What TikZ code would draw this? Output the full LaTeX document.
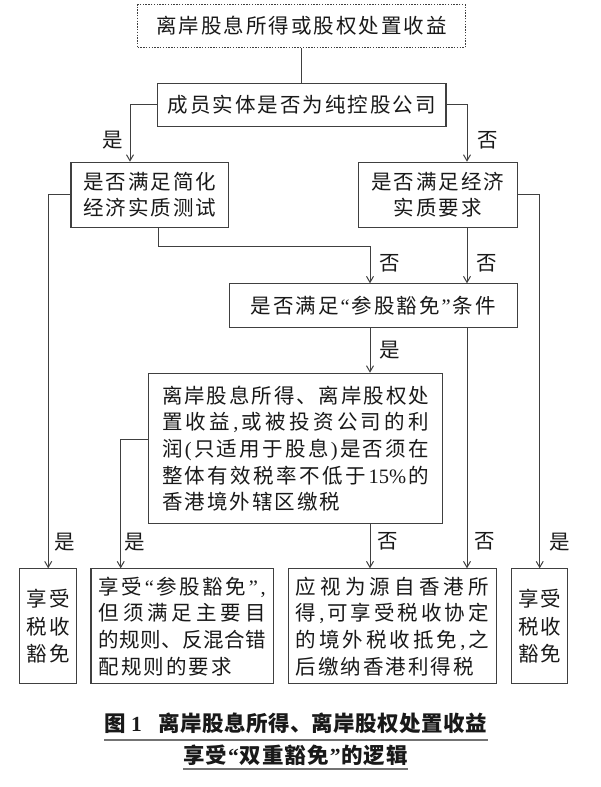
\documentclass[tikz,border=0pt]{standalone}
\usepackage{fontspec}
\setmainfont{Liberation Serif}
\newfontfamily\cjk{Noto Sans CJK SC}
\usetikzlibrary{arrows.meta}
\makeatletter
\newcommand\trk[2]{\begingroup\def\trk@first{1}%
  \@tfor\trk@c:=#2\do{\ifnum\trk@first=1 \def\trk@first{0}\else\hskip#1\relax\fi\trk@c}\endgroup}
\makeatother
\newcommand\zoq{{\rmfamily “}}
\newcommand\zcq{{\rmfamily ”}}
\newcommand\zcm{{\rmfamily ,}}
\newcommand\zlp{{\rmfamily (}}
\newcommand\zrp{{\rmfamily )}}
\newcommand\jl[2]{\hbox to #1{\trk{0pt plus 1fill}{#2}}}
\newcommand\tline[1]{\hbox{\trk{2pt}{#1}}}
\newcommand\lline[2]{\hbox to #1{\trk{2pt}{#2}\hfil}}
\tikzset{
  bx/.style={draw=black!75, line width=1.1pt, rectangle, inner sep=0pt, anchor=north west,
    align=center, font=\cjk\fontsize{20.5}{26.7}\selectfont, text=black!90},
  dbx/.style={bx, dash pattern=on 1.4pt off 1.4pt},
  lab/.style={font=\cjk\fontsize{20.5}{23}\selectfont, text=black!90, inner sep=0pt},
  captxt/.style={font=\cjk\bfseries\fontsize{21.5}{25}\selectfont, text=black!90, inner sep=0pt},
  ln/.style={draw=black!75, line width=1pt},
  arr/.style={ln, -{Straight Barb[length=6pt,width=7pt]}},
  uline/.style={draw=black!55, line width=2.2pt},
}
\begin{document}
\begin{tikzpicture}[x=1pt,y=-1pt]
\fill[white] (0,0) rectangle (600,787);
\useasboundingbox (0,0) rectangle (600,787);

\node[dbx, minimum width=327.5pt, minimum height=43pt] (top) at (137,4) {\tline{离岸股息所得或股权处置收益}};
\node[bx, minimum width=288.7pt, minimum height=43.3pt] (m) at (156.7,82.7) {\tline{成员实体是否为纯控股公司}};
\node[bx, minimum width=157.9pt, minimum height=65pt] (l2) at (70.4,161.7) {\tline{是否满足简化}\\\tline{经济实质测试}};
\node[bx, minimum width=158.8pt, minimum height=65pt] (r2) at (357.7,161.7) {\tline{是否满足经济}\\\tline{实质要求}};
\node[bx, minimum width=287.7pt, minimum height=43.4pt] (p3) at (228.8,283.3) {\tline{是否满足\zoq 参股豁免\zcq 条件}};
\node[bx, minimum width=293.4pt, minimum height=150.6pt] (q4) at (148.3,372.7)
  {\jl{267pt}{离岸股息所得、离岸股权处}\\\jl{267pt}{置收益\zcm 或被投资公司的利}\\\jl{267pt}{润\zlp 只适用于股息\zrp 是否须在}\\\jl{267pt}{整体有效税率不低于{{\rmfamily 15\%}}的}\\\lline{267pt}{香港境外辖区缴税}};
\node[bx, minimum width=56.7pt, minimum height=115pt, font=\cjk\fontsize{20.5}{27.5}\selectfont] (b1) at (19.3,568.3) {\tline{享受}\\\tline{税收}\\\tline{豁免}};
\node[bx, minimum width=182.6pt, minimum height=115pt] (b2) at (90.4,568.3)
  {\jl{167pt}{享受\zoq 参股豁免\zcq \zcm}\\\jl{167pt}{但须满足主要目}\\\jl{167pt}{的规则、反混合错}\\\lline{167pt}{配规则的要求}};
\node[bx, minimum width=208.3pt, minimum height=115pt] (b3) at (287.7,568.3)
  {\jl{193pt}{应视为源自香港所}\\\jl{193pt}{得\zcm 可享受税收协定}\\\jl{193pt}{的境外税收抵免\zcm 之}\\\lline{193pt}{后缴纳香港利得税}};
\node[bx, minimum width=56.3pt, minimum height=115pt, font=\cjk\fontsize{20.5}{27.5}\selectfont] (b4) at (511,568.3) {\tline{享受}\\\tline{税收}\\\tline{豁免}};

\coordinate (xL) at (130,0);
\coordinate (xR) at (467,0);
\coordinate (xM) at (370,0);
\coordinate (xK) at (158.3,0);
\coordinate (yK) at (0,246.7);
\coordinate (xQ) at (120.7,0);
\coordinate (yQ) at (0,439.3);

\draw[ln] (top.south) -- (top.south |- m.north);
\draw[arr] (m.west) -| (l2.north -| xL);
\draw[arr] (m.east) -| (r2.north -| xR);
\draw[arr] (l2.west) -| (b1.north);
\draw[arr] (r2.east) -| (b4.north);
\draw[arr] (l2.south -| xK) |- (yK -| xM) -- (p3.north -| xM);
\draw[arr] (r2.south -| xR) -- (p3.north -| xR);
\draw[arr] (p3.south -| xM) -- (q4.north -| xM);
\draw[arr] (p3.south -| xR) -- (b3.north -| xR);
\draw[arr] (q4.west |- yQ) -| (b2.north -| xQ);
\draw[arr] (q4.south -| xM) -- (b3.north -| xM);

\node[lab] (y1) at (113,140) {是};
\node[lab] (n1) at (488,140) {否};
\node[lab] (n2) at (390,263) {否};
\node[lab] (n3) at (487,263) {否};
\node[lab] (y2) at (390,350) {是};
\node[lab] (y3) at (65,541.7) {是};
\node[lab] (y4) at (135,541.7) {是};
\node[lab] (n4) at (388,541.7) {否};
\node[lab] (n5) at (485,541.7) {否};
\node[lab] (y5) at (559.6,541.7) {是};

\node[captxt] (c1) at (296,723) {\hbox to 383pt{图\hskip5pt{\rmfamily\bfseries 1}\hskip17pt\hbox to 328pt{\trk{0pt plus 1fill}{离岸股息所得、离岸股权处置收益}}}};
\node[captxt] (c2) at (295.5,755) {\jl{225pt}{享受\zoq 双重豁免\zcq 的逻辑}};
\draw[uline] (104,740) -- (488,740);
\draw[uline] (183,769) -- (408,769);
\end{tikzpicture}
\end{document}
